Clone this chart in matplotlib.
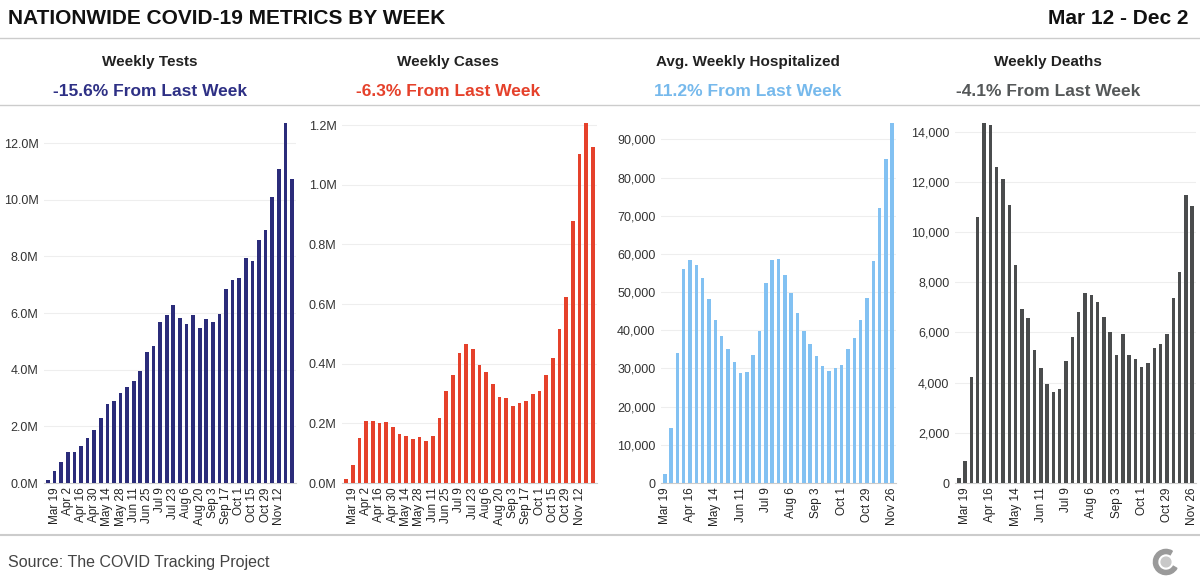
import matplotlib
matplotlib.use("Agg")
import matplotlib.pyplot as plt
import numpy as np
from matplotlib.ticker import FuncFormatter
from matplotlib.patches import Circle, Wedge

plt.rcParams['font.family'] = ['Liberation Sans', 'DejaVu Sans']

weeks38 = ["Mar 12","Mar 19","Mar 26","Apr 2","Apr 9","Apr 16","Apr 23","Apr 30","May 7","May 14","May 21","May 28",
           "Jun 4","Jun 11","Jun 18","Jun 25","Jul 2","Jul 9","Jul 16","Jul 23","Jul 30","Aug 6","Aug 13","Aug 20",
           "Aug 27","Sep 3","Sep 10","Sep 17","Sep 24","Oct 1","Oct 8","Oct 15","Oct 22","Oct 29","Nov 5","Nov 12",
           "Nov 19","Nov 26"]
weeks37 = weeks38[1:]

tests = [0.09,0.41,0.74,1.08,1.08,1.31,1.59,1.86,2.28,2.78,2.9,3.18,3.4,3.6,3.96,4.64,4.82,5.67,5.94,6.27,
         5.82,5.61,5.94,5.46,5.79,5.68,5.98,6.86,7.18,7.24,7.96,7.84,8.59,8.94,10.09,11.09,12.71,10.73]
cases = [0.013,0.06,0.151,0.208,0.208,0.201,0.204,0.187,0.165,0.159,0.147,0.153,0.142,0.159,0.219,0.307,0.363,
         0.435,0.466,0.449,0.397,0.371,0.332,0.288,0.285,0.257,0.268,0.276,0.3,0.307,0.363,0.418,0.518,0.623,
         0.877,1.103,1.207,1.128]
hosp = [2300,14500,34000,56000,58300,57000,53600,48200,42800,38500,35200,31700,28700,29100,33400,39700,52300,
        58300,58700,54500,49800,44600,39700,36300,33200,30700,29300,30000,30900,35200,38100,42800,48400,58200,
        72100,84900,94300]
deaths = [200,870,4230,10600,14350,14270,12600,12100,11100,8700,6950,6560,5300,4570,3930,3640,3760,4850,5810,
          6810,7570,7490,7230,6610,6030,5090,5950,5090,4960,4640,4770,5400,5530,5950,7360,8400,11470,11040]

titles = ["Weekly Tests","Weekly Cases","Avg. Weekly Hospitalized","Weekly Deaths"]
changes = ["-15.6% From Last Week","-6.3% From Last Week","11.2% From Last Week","-4.1% From Last Week"]
colors = ["#2b2c7a","#e5412b","#82c1f2","#4a4c4d"]
sub_colors = ["#2e3085","#e5412b","#76b9ec","#555859"]

W, H = 1200, 588
fig = plt.figure(figsize=(W/100, H/100), dpi=100)

def fx(x): return x / W
def fy(y): return 1 - y / H

fig.text(fx(8), fy(18), "NATIONWIDE COVID-19 METRICS BY WEEK", fontsize=15, fontweight='bold', va='center', color='#111')
fig.text(fx(1188), fy(18), "Mar 12 - Dec 2", fontsize=15, fontweight='bold', va='center', ha='right', color='#111')
fig.add_artist(plt.Line2D([0, 1], [fy(38), fy(38)], color='#cccccc', lw=1))
fig.add_artist(plt.Line2D([0, 1], [fy(105), fy(105)], color='#cccccc', lw=1))
fig.add_artist(plt.Line2D([0, 1], [fy(535), fy(535)], color='#cccccc', lw=1.5))
fig.text(fx(8), fy(562), "Source: The COVID Tracking Project", fontsize=11.5, va='center', color='#444')
# logo
lax = fig.add_axes([fx(1152), fy(576), fx(28), 28 / H])
lax.set_aspect('equal'); lax.axis('off'); lax.set_xlim(-1, 1); lax.set_ylim(-1, 1)
lax.add_patch(Wedge((0, 0), 0.9, 60, 330, width=0.3, color='#9a9a9a'))
lax.add_patch(Circle((0, 0), 0.35, color='#c8c8c8'))

panels = [
    (tests, weeks38, 44, 296, 12.71, lambda v, p: f"{v:.1f}M", np.arange(0, 13, 2), weeks38[1:-1:2]),
    (cases, weeks38, 342, 597, 1.207, lambda v, p: f"{v:.1f}M", np.arange(0, 1.3, 0.2), weeks38[1:-1:2]),
    (hosp, weeks37, 661, 896, 94300, lambda v, p: f"{int(v):,}", np.arange(0, 95000, 10000), weeks38[1::4]),
    (deaths, weeks38, 955, 1196, 14350, lambda v, p: f"{int(v):,}", np.arange(0, 15000, 2000), weeks38[1::4]),
]
centers = [150, 448, 748, 1048]
for i, (vals, cats, x0, x1, mx, fmt, yt, xl) in enumerate(panels):
    fig.text(fx(centers[i]), fy(62), titles[i], fontsize=11, fontweight='bold', ha='center', va='center', color='#222')
    fig.text(fx(centers[i]), fy(91), changes[i], fontsize=12.5, fontweight='bold', ha='center', va='center', color=sub_colors[i])
    top, base = 123, 483
    ax = fig.add_axes([fx(x0), fy(base), fx(x1 - x0), (base - top) / H])
    ax.bar(cats, vals, width=0.55, color=colors[i], zorder=3)
    ax.set_ylim(0, mx)
    ax.set_xlim(-0.6, len(cats) - 0.4)
    ax.set_yticks(yt)
    ax.yaxis.set_major_formatter(FuncFormatter(fmt))
    ax.set_xticks(xl)
    ax.set_xticklabels(xl, rotation=90, fontsize=8.5, color='#222')
    ax.tick_params(axis='y', labelsize=9, length=0, labelcolor='#333', pad=4)
    ax.tick_params(axis='x', length=0, pad=3)
    ax.grid(axis='y', color='#eeeeee', lw=0.8, zorder=0)
    for s in ['top', 'right', 'left']:
        ax.spines[s].set_visible(False)
    ax.spines['bottom'].set_color('#cccccc')
    ax.set_facecolor('white')

fig.savefig("out.png", dpi=100, facecolor='white')
